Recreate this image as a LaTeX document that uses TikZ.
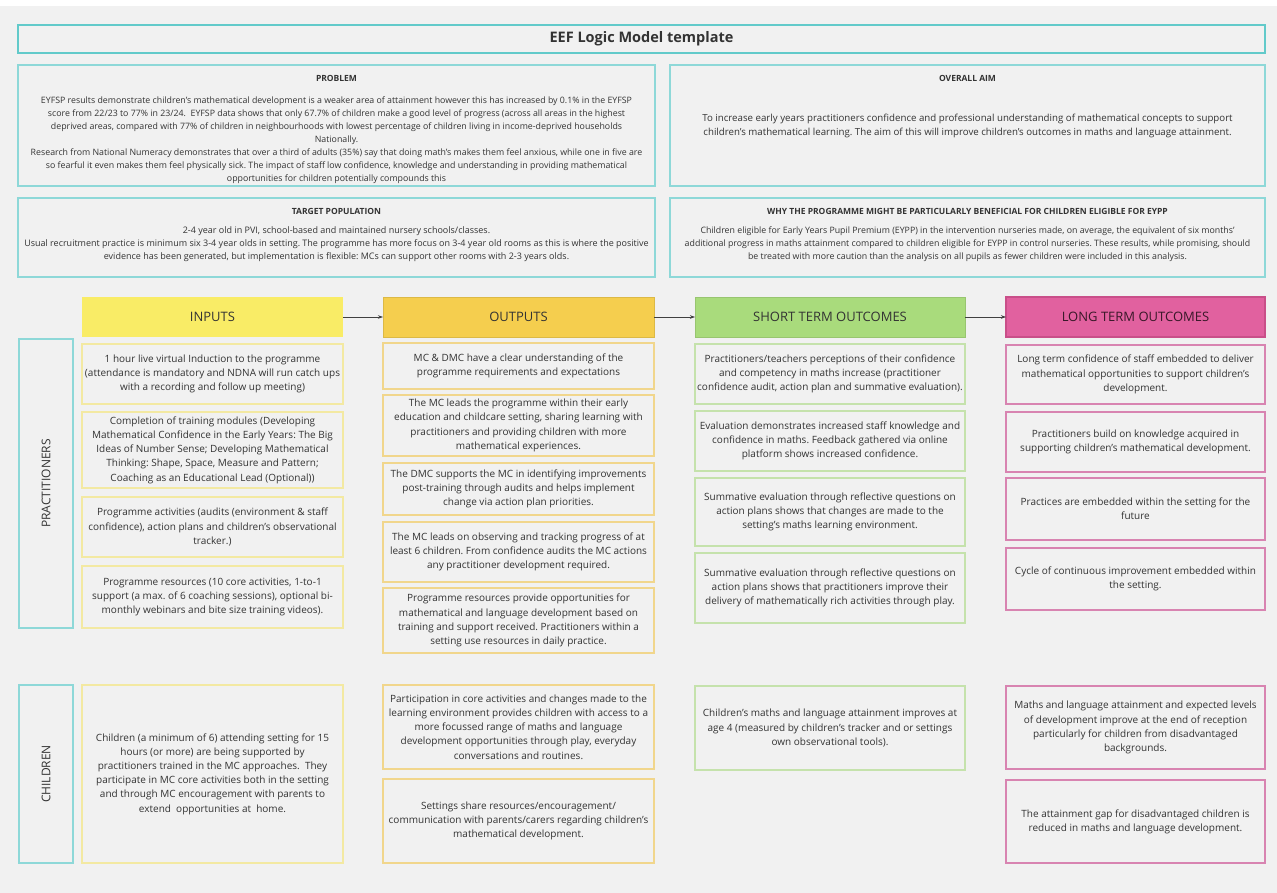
\documentclass[tikz,border=0pt]{standalone}
\usepackage{fontspec}
\setmainfont{Open Sans}
\usetikzlibrary{arrows.meta}
\frenchspacing
\definecolor{bgc}{HTML}{F1F1F1}
\definecolor{tealb}{HTML}{62CACA}
\definecolor{teall}{HTML}{8ED8D8}
\definecolor{txt}{HTML}{333333}
\definecolor{inhead}{HTML}{F9EC66}
\definecolor{outhead}{HTML}{F5CE4E}
\definecolor{sthead}{HTML}{A9DB7C}
\definecolor{lthead}{HTML}{E1619F}
\definecolor{ltheadd}{HTML}{C94F89}
\definecolor{inb}{HTML}{F3E9A2}
\definecolor{outb}{HTML}{F1D68C}
\definecolor{stb}{HTML}{C5E2AC}
\definecolor{ltb}{HTML}{D884B1}
\newcommand\fs[2]{\fontsize{#1}{#2}\selectfont}
\newcommand\bx[7]{\node[#2, minimum width={(#5-#3)*1pt}, minimum height={(#6-#4)*1pt}] (#1) at ({(#3+#5)/2},{(#4+#6)/2}) {#7};}
\begin{document}
\begin{tikzpicture}[x=1pt,y=-1pt,
  base/.style={inner sep=0pt, outer sep=0pt, align=center, text=txt},
  titlebox/.style={base, draw=tealb, line width=2.4pt, fill=bgc, font=\fs{14.5}{17}\bfseries},
  topbox/.style={base, draw=teall, line width=1.6pt, fill=bgc},
  headf/.style={base, font=\fs{8.5}{10}\bfseries},
  sidebox/.style={base, draw=teall, line width=1.6pt, fill=bgc},
  sidetext/.style={base, font=\fs{12}{14}, rotate=90},
  colhead/.style={base, font=\fs{13}{15}},
  cell/.style={base, fill=bgc, line width=1.4pt, font=\fs{10}{14.2}},
  inbox/.style={cell, draw=inb},
  outbox/.style={cell, draw=outb},
  stbox/.style={cell, draw=stb},
  ltbox/.style={cell, draw=ltb},
  arr/.style={draw=black!75, line width=0.6pt, -{Stealth[length=5pt,width=3.5pt]}}
]
\fill[white] (0,0) rectangle (1277,893);
\fill[bgc] (0,6) rectangle (1277,893);
\useasboundingbox (0,0) rectangle (1277,893);

% title
\bx{title}{titlebox}{18}{25}{1265}{53}{EEF Logic Model template}

% problem
\bx{prob}{topbox}{18}{65}{655}{186}{}
\node[headf] (probh) at (336.5,78) {PROBLEM};
\node[base, font=\fs{8.8}{12.9}] (probt) at (336.5,140) {EYFSP results demonstrate children's mathematical development is a weaker area of attainment however this has increased by 0.1\% in the EYFSP\\
score from 22/23 to 77\% in 23/24.\ \ EYFSP data shows that only 67.7\% of children make a good level of progress (across all areas in the highest\\
deprived areas, compared with 77\% of children in neighbourhoods with lowest percentage of children living in income-deprived households\\
Nationally.\\
Research from National Numeracy demonstrates that over a third of adults (35\%) say that doing math's makes them feel anxious, while one in five are\\
so fearful it even makes them feel physically sick. The impact of staff low confidence, knowledge and understanding in providing mathematical\\
opportunities for children potentially compounds this};

% overall aim
\bx{aim}{topbox}{670}{65}{1265}{186}{}
\node[headf] (aimh) at (967.5,78) {OVERALL AIM};
\node[base, font=\fs{9.7}{13.2}] (aimt) at (967.5,126) {To increase early years practitioners confidence and professional understanding of mathematical concepts to support\\
children's mathematical learning. The aim of this will improve children's outcomes in maths and language attainment.};

% target population
\bx{targ}{topbox}{18}{198}{655}{277}{}
\node[headf] (targh) at (336.5,211) {TARGET POPULATION};
\node[base, font=\fs{9}{13}] (targt) at (336.5,244) {2-4 year old in PVI, school-based and maintained nursery schools/classes.\\
Usual recruitment practice is minimum six 3-4 year olds in setting. The programme has more focus on 3-4 year old rooms as this is where the positive\\
evidence has been generated, but implementation is flexible: MCs can support other rooms with 2-3 years olds.};

% eypp
\bx{eypp}{topbox}{670}{198}{1265}{277}{}
\node[headf] (eypph) at (967.5,211) {WHY THE PROGRAMME MIGHT BE PARTICULARLY BENEFICIAL FOR CHILDREN ELIGIBLE FOR EYPP};
\node[base, font=\fs{8.8}{13}] (eyppt) at (967.5,244) {Children eligible for Early Years Pupil Premium (EYPP) in the intervention nurseries made, on average, the equivalent of six months'\\
additional progress in maths attainment compared to children eligible for EYPP in control nurseries. These results, while promising, should\\
be treated with more caution than the analysis on all pupils as fewer children were included in this analysis.};

% column headers
\bx{hin}{colhead, fill=inhead}{82}{297}{343}{337}{INPUTS}
\bx{hout}{colhead, fill=outhead, draw=outhead!90!black, line width=0.6pt}{383}{297}{654}{337}{OUTPUTS}
\bx{hst}{colhead, fill=sthead, draw=sthead!90!black, line width=0.6pt}{695}{297}{965}{337}{SHORT TERM OUTCOMES}
\bx{hlt}{colhead, fill=lthead, draw=ltheadd, line width=1.2pt, text=black!75!lthead}{1006}{297}{1265}{337}{LONG TERM OUTCOMES}
\draw[arr] (hin.east) -- (hout.west);
\draw[arr] (hout.east) -- (hst.west);
\draw[arr] (hst.east) -- (hlt.west);

% side labels
\bx{prac}{sidebox}{19}{339}{73}{628}{}
\node[sidetext] (pract) at (prac.center) {PRACTITIONERS};
\bx{chil}{sidebox}{19}{685}{73}{863}{}
\node[sidetext] (chilt) at (chil.center) {CHILDREN};

% inputs
\bx{i1}{inbox}{82}{344}{343}{404}{1 hour live virtual Induction to the programme\\(attendance is mandatory and NDNA will run catch ups\\with a recording and follow up meeting)}
\bx{i2}{inbox}{82}{412}{343}{488}{Completion of training modules (Developing\\Mathematical Confidence in the Early Years: The Big\\Ideas of Number Sense; Developing Mathematical\\Thinking: Shape, Space, Measure and Pattern;\\Coaching as an Educational Lead (Optional))}
\bx{i3}{inbox}{82}{497}{343}{557}{Programme activities (audits (environment \& staff\\confidence), action plans and children's observational\\tracker.)}
\bx{i4}{inbox}{82}{566}{343}{628}{Programme resources (10 core activities, 1-to-1\\support (a max. of 6 coaching sessions), optional bi-\\monthly webinars and bite size training videos).}
\bx{ic}{inbox}{82}{685}{343}{863}{Children (a minimum of 6) attending setting for 15\\hours (or more) are being supported by\\practitioners trained in the MC approaches.\ \ They\\participate in MC core activities both in the setting\\and through MC encouragement with parents to\\extend\ \ opportunities at\ \ home.}

% outputs
\bx{o1}{outbox}{383}{343}{654}{389}{MC \& DMC have a clear understanding of the\\programme requirements and expectations}
\bx{o2}{outbox}{383}{395}{654}{456}{The MC leads the programme within their early\\education and childcare setting, sharing learning with\\practitioners and providing children with more\\mathematical experiences.}
\bx{o3}{outbox}{383}{463}{654}{515}{The DMC supports the MC in identifying improvements\\post-training through audits and helps implement\\change via action plan priorities.}
\bx{o4}{outbox}{383}{522}{654}{582}{The MC leads on observing and tracking progress of at\\least 6 children. From confidence audits the MC actions\\any practitioner development required.}
\bx{o5}{outbox}{383}{588}{654}{653}{Programme resources provide opportunities for\\mathematical and language development based on\\training and support received. Practitioners within a\\setting use resources in daily practice.}
\bx{oc1}{outbox}{383}{685}{654}{769}{Participation in core activities and changes made to the\\learning environment provides children with access to a\\more focussed range of maths and language\\development opportunities through play, everyday\\conversations and routines.}
\bx{oc2}{outbox}{383}{779}{654}{863}{Settings share resources/encouragement/\\communication with parents/carers regarding children's\\mathematical development.}

% short term
\bx{s1}{stbox}{695}{344}{965}{404}{Practitioners/teachers perceptions of their confidence\\and competency in maths increase (practitioner\\confidence audit, action plan and summative evaluation).}
\bx{s2}{stbox}{695}{411}{965}{471}{Evaluation demonstrates increased staff knowledge and\\confidence in maths. Feedback gathered via online\\platform shows increased confidence.}
\bx{s3}{stbox}{695}{478}{965}{546}{Summative evaluation through reflective questions on\\action plans shows that changes are made to the\\setting's maths learning environment.}
\bx{s4}{stbox}{695}{553}{965}{623}{Summative evaluation through reflective questions on\\action plans shows that practitioners improve their\\delivery of mathematically rich activities through play.}
\bx{sc}{stbox}{695}{686}{965}{770}{Children's maths and language attainment improves at\\age 4 (measured by children's tracker and or settings\\own observational tools).}

% long term
\bx{l1}{ltbox}{1006}{345}{1265}{404}{Long term confidence of staff embedded to deliver\\mathematical opportunities to support children's\\development.}
\bx{l2}{ltbox}{1006}{412}{1265}{472}{Practitioners build on knowledge acquired in\\supporting children's mathematical development.}
\bx{l3}{ltbox}{1006}{478}{1265}{540}{Practices are embedded within the setting for the\\future}
\bx{l4}{ltbox}{1006}{548}{1265}{610}{Cycle of continuous improvement embedded within\\the setting.}
\bx{lc1}{ltbox}{1006}{686}{1265}{769}{Maths and language attainment and expected levels\\of development improve at the end of reception\\particularly for children from disadvantaged\\backgrounds.}
\bx{lc2}{ltbox}{1006}{780}{1265}{863}{The attainment gap for disadvantaged children is\\reduced in maths and language development.}
\end{tikzpicture}
\end{document}
